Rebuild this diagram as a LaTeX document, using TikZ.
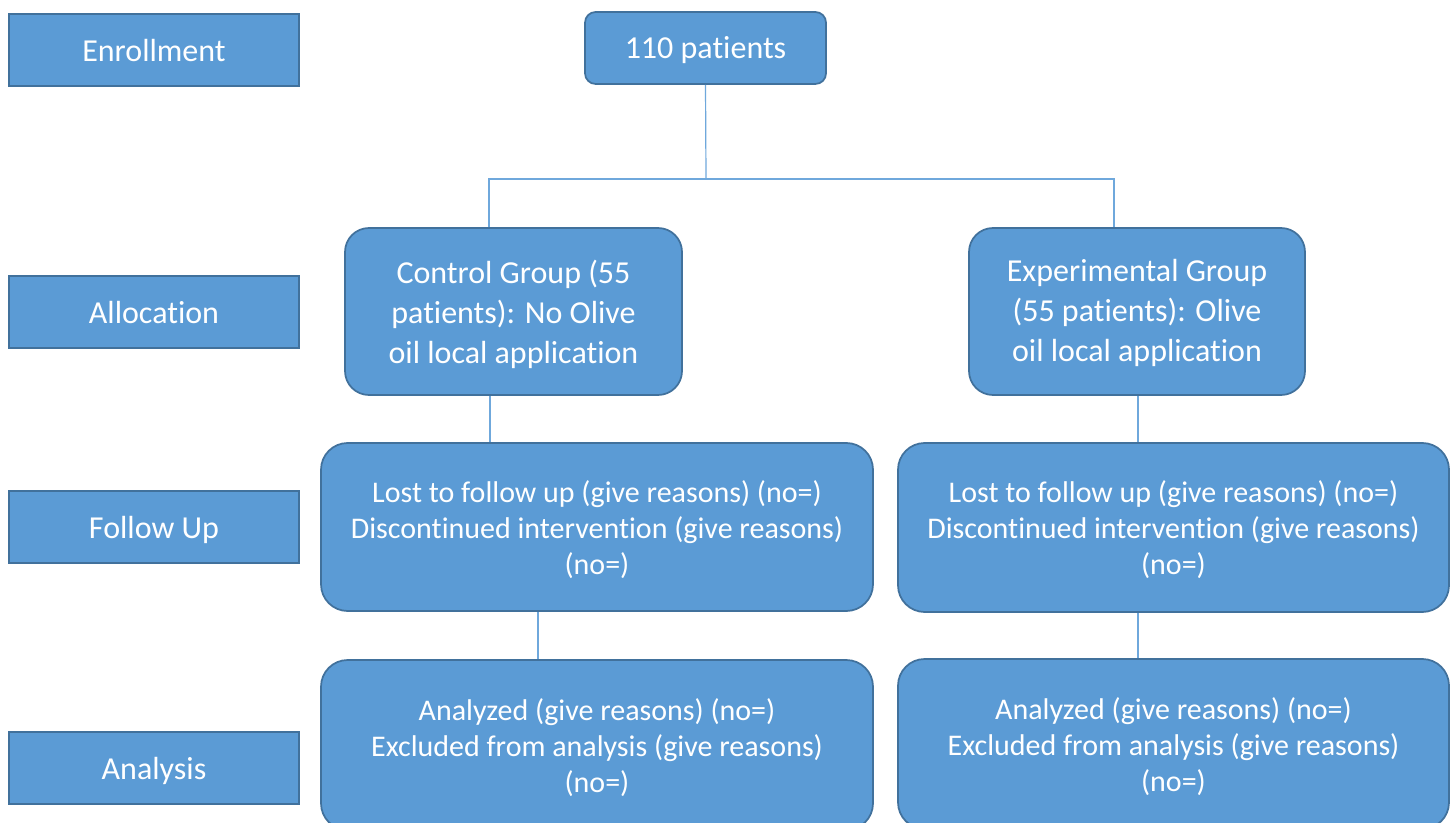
\documentclass[tikz,border=0pt]{standalone}
\usepackage{fontspec}
\setmainfont{Carlito}[Ligatures=NoCommon]
\definecolor{boxfill}{HTML}{5B9BD5}
\definecolor{boxline}{HTML}{41719C}
\definecolor{connline}{HTML}{6FA8DC}
\newcommand\boxtext[2][-3.2pt]{\raisebox{#1}[\height][\depth]{\begin{tabular}{@{}c@{}}#2\end{tabular}}}
\begin{document}
\begin{tikzpicture}[x=0.75pt,y=-0.75pt,
  basebox/.style={draw=boxline, fill=boxfill, line width=1.3pt, text=white, inner sep=0pt},
  stage/.style={basebox, minimum width=290*0.75pt, minimum height=72*0.75pt, font=\fontsize{24}{30}\selectfont},
  bigtext/.style={font=\fontsize{24}{30}\selectfont},
  smalltext/.style={font=\fontsize{22.5}{27}\selectfont},
  conn/.style={draw=connline, line width=0.9pt}
]
\useasboundingbox (0,0) rectangle (1455,823);
\fill[white] (0,0) rectangle (1455,823);

% stage labels
\node[stage] (enr) at (154,50) {\boxtext[-2.4pt]{Enrollment}};
\node[stage] (alo) at (154,312) {\boxtext[-2.4pt]{Allocation}};
\node[stage] (fol) at (154,527) {\boxtext[-2.4pt]{Follow Up}};
\node[stage] (ana) at (154,768) {\boxtext[-2.4pt]{Analysis}};

% flow boxes
\node[basebox, bigtext, rounded corners=8pt, minimum width=241*0.75pt, minimum height=72*0.75pt] (pat) at (705.5,48) {\boxtext[-1.8pt]{110 patients}};
\node[basebox, bigtext, rounded corners=18pt, minimum width=337*0.75pt, minimum height=167*0.75pt] (ctrl) at (513.5,311.5) {\boxtext{Control Group (55\\patients): No Olive\\oil local application}};
\node[basebox, bigtext, rounded corners=18pt, minimum width=336*0.75pt, minimum height=167*0.75pt] (exp) at (1137,311.5) {\boxtext[-1.5pt]{Experimental Group\\(55 patients): Olive\\oil local application}};
\node[basebox, smalltext, rounded corners=20pt, minimum width=552*0.75pt, minimum height=168*0.75pt] (fl) at (597,527) {\boxtext{Lost to follow up (give reasons) (no=)\\Discontinued intervention (give reasons)\\(no=)}};
\node[basebox, smalltext, rounded corners=20pt, minimum width=551*0.75pt, minimum height=169*0.75pt] (fr) at (1173.5,527.5) {\boxtext{Lost to follow up (give reasons) (no=)\\Discontinued intervention (give reasons)\\(no=)}};
\node[basebox, smalltext, rounded corners=20pt, minimum width=552*0.75pt, minimum height=170*0.75pt] (al) at (597,745) {\boxtext{Analyzed (give reasons) (no=)\\Excluded from analysis (give reasons)\\(no=)}};
\node[basebox, smalltext, rounded corners=20pt, minimum width=551*0.75pt, minimum height=170*0.75pt] (ar) at (1173.5,744) {\boxtext{Analyzed (give reasons) (no=)\\Excluded from analysis (give reasons)\\(no=)}};

% junction coordinates
\coordinate (j) at (706,179);
\coordinate (jl) at (489,179);
\coordinate (jr) at (1114,179);
\coordinate (c1) at (490,0);
\coordinate (c2) at (1138,0);
\coordinate (c3) at (538,0);
\coordinate (c4) at (1138,0);

% connectors
\draw[conn] (pat.south) -- (j);
\draw[conn] (jl |- ctrl.north) -- (jl) -- (jr) -- (jr |- exp.north);
\draw[conn] (c1 |- ctrl.south) -- (c1 |- fl.north);
\draw[conn] (c2 |- exp.south) -- (c2 |- fr.north);
\draw[conn] (c3 |- fl.south) -- (c3 |- al.north);
\draw[conn] (c4 |- fr.south) -- (c4 |- ar.north);
\end{tikzpicture}
\end{document}
